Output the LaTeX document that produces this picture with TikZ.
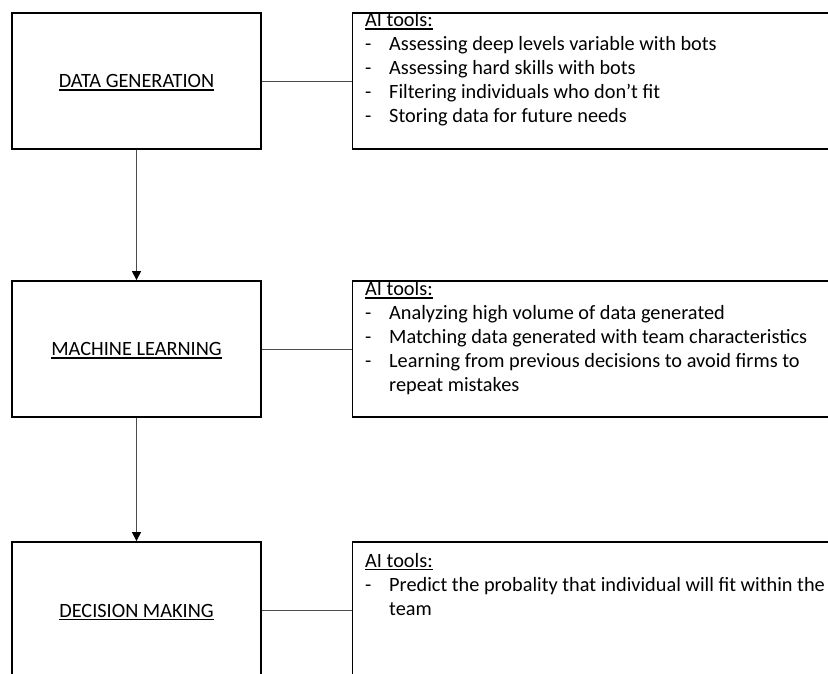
\documentclass[tikz,border=0pt]{standalone}
\usepackage{fontspec}
\newfontfamily\carlito{Carlito}
\usetikzlibrary{arrows.meta}
\newcommand\myul[1]{\setbox0\hbox{#1}\rlap{\rule[-2.8pt]{\wd0}{1.3pt}}\box0}
\newcommand\itm[1]{\makebox[24pt][l]{-}#1}
\newcommand\cont[1]{\hspace*{24pt}#1}
\begin{document}
\begin{tikzpicture}[x=1pt,y=-1pt,
  box/.style={draw=black, line width=1.8pt, inner sep=0pt},
  conn/.style={draw=black!70, line width=1pt},
  flow/.style={conn, -{Triangle[width=9pt,length=9pt]}, arrows={[fill=black,color=black]}},
  title/.style={anchor=base, inner sep=0pt, font=\carlito\fontsize{20.3}{24}\selectfont},
  txt/.style={anchor=base west, inner sep=0pt, font=\carlito\fontsize{20.3}{24}\selectfont}]
\useasboundingbox (0,0) rectangle (828,673);
\fill[white] (0,0) rectangle (828,673);
\begin{scope}
\clip (0,0) rectangle (828,673);
% left boxes
\node[box, minimum width=249pt, minimum height=136pt] (lb1) at (136.5,81) {};
\node[box, minimum width=249pt, minimum height=136pt] (lb2) at (136.5,349) {};
\node[box, minimum width=249pt, minimum height=137pt] (lb3) at (136.5,610.5) {};
% right boxes
\node[box, minimum width=488pt, minimum height=136pt] (rb1) at (596.5,81) {};
\node[box, minimum width=488pt, minimum height=136pt] (rb2) at (596.5,349) {};
\node[box, minimum width=488pt, minimum height=137pt] (rb3) at (596.5,610.5) {};
% titles
\node[title] (t1) at (136.5,87.7) {\myul{DATA GENERATION}};
\node[title] (t2) at (136.5,355.7) {\myul{MACHINE LEARNING}};
\node[title] (t3) at (136.5,617.2) {\myul{DECISION MAKING}};
% right texts
\node[txt] (a1) at (365,26.7) {\myul{AI tools:}};
\node[txt] (a2) at (365,50.7) {\itm{Assessing deep levels variable with bots}};
\node[txt] (a3) at (365,74.7) {\itm{Assessing hard skills with bots}};
\node[txt] (a4) at (365,98.7) {\itm{Filtering individuals who don’t fit}};
\node[txt] (a5) at (365,122.7) {\itm{Storing data for future needs}};
\node[txt] (b1) at (365,295.7) {\myul{AI tools:}};
\node[txt] (b2) at (365,319.7) {\itm{Analyzing high volume of data generated}};
\node[txt] (b3) at (365,343.7) {\itm{Matching data generated with team characteristics}};
\node[txt] (b4) at (365,367.7) {\itm{Learning from previous decisions to avoid firms to}};
\node[txt] (b5) at (365,391.7) {\cont{repeat mistakes}};
\node[txt] (c1) at (365,567.5) {\myul{AI tools:}};
\node[txt] (c2) at (365,591.5) {\itm{Predict the probality that individual will fit within the}};
\node[txt] (c3) at (365,615.5) {\cont{team}};
% connectors
\draw[conn] (lb1.east) -- (rb1.west);
\draw[conn] (lb2.east) -- (rb2.west);
\draw[conn] (lb3.east) -- (rb3.west);
\draw[flow] (lb1.south) -- (lb2.north);
\draw[flow] (lb2.south) -- (lb3.north);
\end{scope}
\end{tikzpicture}
\end{document}
